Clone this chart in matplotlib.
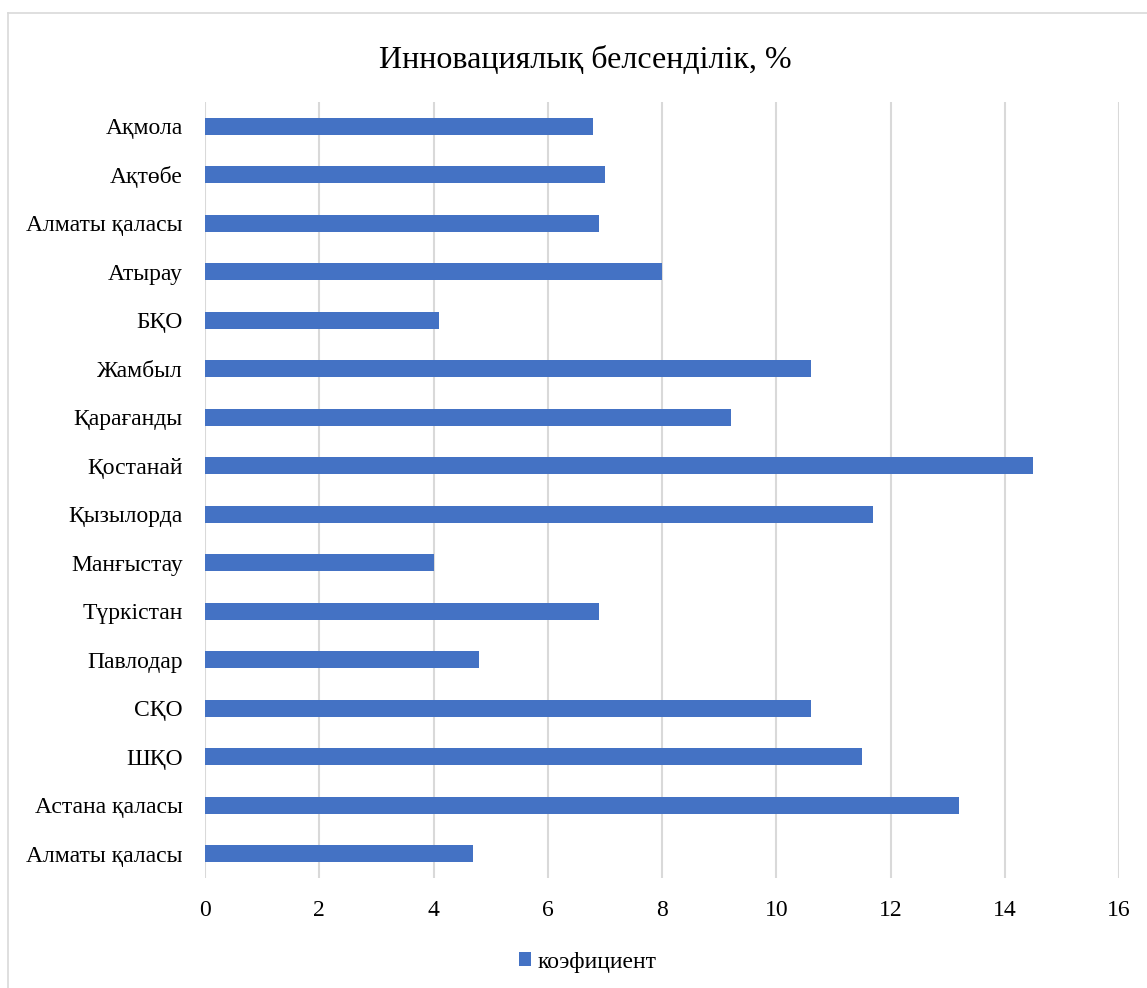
import matplotlib
matplotlib.use("Agg")
import matplotlib.pyplot as plt
from matplotlib.lines import Line2D
from matplotlib.patches import Patch

plt.rcParams['font.family'] = ['Liberation Serif', 'DejaVu Serif']

categories = ["Ақмола", "Ақтөбе", "Алматы қаласы", "Атырау", "БҚО", "Жамбыл",
              "Қарағанды", "Қостанай", "Қызылорда", "Манғыстау", "Түркістан",
              "Павлодар", "СҚО", "ШҚО", "Астана қаласы", "Алматы қаласы"]
values = [6.8, 7.0, 6.9, 8.0, 4.1, 10.6, 9.2, 14.5, 11.7, 4.0, 6.9, 4.8,
          10.6, 11.5, 13.2, 4.7]
xticks = [0, 2, 4, 6, 8, 10, 12, 14, 16]
title = "Инновациялық белсенділік, %"
series_name = "коэфициент"

W, H = 1147, 988
fig = plt.figure(figsize=(W / 100, H / 100), dpi=100)
ax = fig.add_axes([205 / W, 1 - 878 / H, (1119 - 205) / W, (878 - 102) / H])

color = "#4472C4"
pos = list(range(len(categories)))
ax.barh(pos, values, height=0.35, color=color, zorder=3)
ax.set_ylim(len(categories) - 0.5, -0.5)
ax.set_xlim(0, 16)
ax.set_yticks(pos)
ax.set_yticklabels(categories, fontsize=17)
ax.set_xticks(xticks)
ax.set_xticklabels([str(t) for t in xticks], fontsize=17)
ax.tick_params(axis='both', length=0, colors='black')
ax.tick_params(axis='y', pad=16)
ax.tick_params(axis='x', pad=16)
ax.grid(axis='x', color='#d9d9d9', linewidth=1.5, zorder=0)
for s in ax.spines.values():
    s.set_visible(False)

fig.text(585 / W, 1 - 60 / H, title, ha='center', va='center', fontsize=23)

fig.legend(handles=[Patch(facecolor=color, label=series_name)],
           loc='center', bbox_to_anchor=(588 / W, 1 - 962 / H), frameon=False,
           fontsize=17, handlelength=0.5, handleheight=0.5, handletextpad=0.3)

# partial outer border (top and left)
fig.add_artist(Line2D([8 / W, 1], [1 - 13 / H, 1 - 13 / H], transform=fig.transFigure,
                      color='#d9d9d9', linewidth=1.2))
fig.add_artist(Line2D([8 / W, 8 / W], [0, 1 - 13 / H], transform=fig.transFigure,
                      color='#d9d9d9', linewidth=1.2))

fig.savefig("out.png", dpi=100)
